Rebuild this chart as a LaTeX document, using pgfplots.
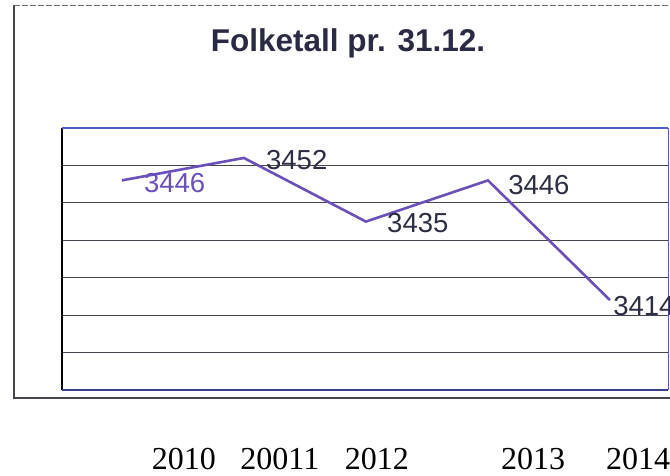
\documentclass[border=0pt]{standalone}
\usepackage{pgfplots}
\usepackage{pgfplotstable}
\pgfplotsset{compat=1.18}
\usepackage{fontspec}
\setmainfont{Liberation Sans}
\newfontfamily\yearfont{Liberation Serif}

\definecolor{linepurple}{HTML}{6A50B8}
\definecolor{labeldark}{HTML}{2C2D42}
\definecolor{gridgray}{HTML}{45454F}
\definecolor{frameblue}{HTML}{4D5CCB}
\definecolor{titlecol}{HTML}{2A2A44}

% x: category index, dx/dy: label offsets (pt), c: share of purple in label colour
\pgfplotstableread{
x y lab dx dy c
0 3446 3446 21 -3 100
1 3452 3452 21 -2 0
2 3435 3435 20 -1 0
3 3446 3446 19 -5 0
4 3414 3414 2 -6 0
}\folketall

\begin{document}
\begin{tikzpicture}
\begin{axis}[
    at={(0,0)}, anchor=south west,
    scale only axis,
    width=606pt, height=262pt,
    xmin=-0.49, xmax=4.475,
    ymin=3390, ymax=3460,
    ytick={3390,3400,...,3460},
    yticklabels={},
    ymajorgrids,
    major grid style={gridgray, line width=1.2pt},
    xtick={0.508,1.295,2.09,3.37,4.23},
    xticklabels={2010,20011,2012,2013,2014},
    xticklabel style={font=\yearfont\fontsize{32}{36}\selectfont, anchor=base, yshift=-79pt, text=black},
    major tick length=0pt,
    axis line style={draw=none},
    clip=false,
    title={\bfseries Folketall pr. 31.12.},
    title style={at={(axis description cs:0.472,1.271)}, anchor=base,
        font=\fontsize{31.5}{36}\selectfont, text=titlecol},
    nodes near coords,
    point meta=explicit symbolic,
    visualization depends on={\thisrow{dx} \as \ldx},
    visualization depends on={\thisrow{dy} \as \ldy},
    visualization depends on={\thisrow{c} \as \lc},
    every node near coord/.style={anchor=west, inner sep=0pt,
        xshift=\ldx pt, yshift=\ldy pt, text=linepurple!\lc!labeldark,
        font=\fontsize{27.5}{32}\selectfont},
]
% plot area frame
\draw[black, line width=1.2pt] (rel axis cs:0,0) -- (rel axis cs:0,1);
\draw[frameblue, line width=2.2pt] (rel axis cs:0,1) -- (rel axis cs:1,1);
\draw[frameblue!70!black, line width=1.8pt] (rel axis cs:0,0) -- (rel axis cs:1,0);
\draw[frameblue, line width=1pt] (rel axis cs:1,0) -- (rel axis cs:1,1);

\addplot[linepurple, line width=2.6pt, mark=none]
    table[x=x, y=y, meta=lab] {\folketall};
\end{axis}
% outer chart frame
\draw[gridgray, line width=1.4pt] (-48pt,385pt) -- (-48pt,-8pt) -- (620pt,-8pt);
\draw[gridgray!80, line width=1pt, dash pattern=on 6pt off 2pt] (-48pt,385pt) -- (620pt,385pt);
\pgfresetboundingbox
\useasboundingbox (-62pt,-85pt) rectangle (608pt,390pt);
\end{tikzpicture}
\end{document}
